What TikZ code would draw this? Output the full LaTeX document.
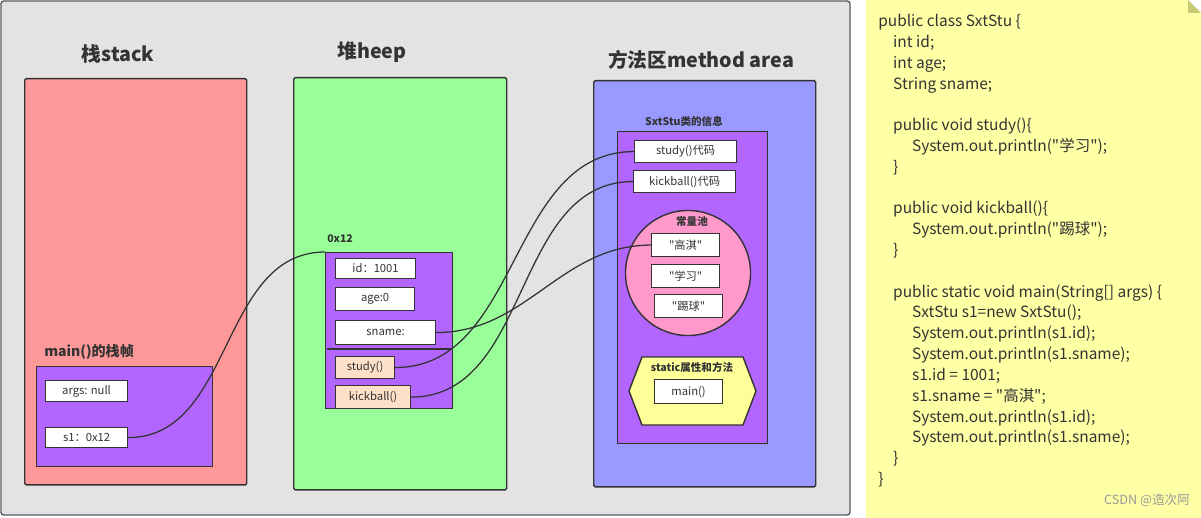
\documentclass[tikz,border=0pt]{standalone}
\usepackage{fontspec}
\setmainfont{Noto Sans CJK SC}
\newfontfamily\plainfont{Noto Sans CJK SC}
\usetikzlibrary{positioning}
\definecolor{ink}{HTML}{333333}
\definecolor{bggray}{HTML}{E3E3E3}
\definecolor{stackred}{HTML}{FF9999}
\definecolor{heapgreen}{HTML}{99FF99}
\definecolor{methodblue}{HTML}{9999FF}
\definecolor{framepurple}{HTML}{B266FF}
\definecolor{peach}{HTML}{FFE0C8}
\definecolor{poolpink}{HTML}{FF99CC}
\definecolor{hexyellow}{HTML}{FFFF99}
\definecolor{noteyellow}{HTML}{FFFFA6}
\definecolor{notefold}{HTML}{C8C878}
\begin{document}
\begin{tikzpicture}[x=0.025cm, y=-0.025cm,
        every node/.style={text=ink, inner sep=0pt},
        area/.style={draw=ink, line width=1pt, rounded corners=1pt, anchor=north west},
        cell/.style={draw=ink, line width=0.8pt, fill=white, anchor=north west, font=\plainfont\fontsize{8}{9}\selectfont},
        title/.style={font=\fontsize{14}{16}\selectfont\bfseries},
        tag/.style={font=\fontsize{7.5}{9}\selectfont\bfseries},
        link/.style={draw=ink, line width=0.9pt}
    ]
        \useasboundingbox (0,0) rectangle (1201,518);

        % Khung nền và ghi chú
        \filldraw[fill=bggray, draw=ink!80, line width=1pt, rounded corners=2pt] (1,1) rectangle (850,515);
        \fill[noteyellow] (866,0) -- (1188,0) -- (1201,13) -- (1201,518) -- (866,518) -- cycle;
        \fill[notefold] (1188,0) -- (1188,13) -- (1201,13) -- cycle;

        % Ba vùng nhớ
        \node[title] (tstack) at (118,54) {栈stack};
        \node[title] (theap) at (372,52) {堆heep};
        \node[title] (tmethod) at (701,60) {方法区method area};
        \node[area, fill=stackred, minimum width=5.55cm, minimum height=10.15cm] (stack) at (24,78) {};
        \node[area, fill=heapgreen, minimum width=5.325cm, minimum height=10.3cm] (heap) at (293,77) {};
        \node[area, fill=methodblue, minimum width=5.55cm, minimum height=10.15cm] (method) at (593,80) {};

        % Ngăn xếp
        \node[anchor=west, font=\fontsize{10}{12}\selectfont\bfseries] (tframe) at (44,352) {main()的栈帧};
        \node[area, fill=framepurple, rounded corners=0pt, minimum width=4.4cm, minimum height=2.5cm] (frame) at (36,366) {};
        \node[cell, minimum width=2.05cm, minimum height=0.525cm] (args) at (45,380) {args: null};
        \node[cell, minimum width=2.05cm, minimum height=0.5cm] (s1) at (45,427) {s1：0x12};

        % Đối tượng trên heap
        \node[tag, anchor=west] (taddr) at (327,239) {0x12};
        \node[area, fill=framepurple, rounded corners=0pt, minimum width=3.175cm, minimum height=3.9cm] (obj) at (325,252) {};
        \node[cell, minimum width=2cm, minimum height=0.5cm] (id) at (335,258) {id：1001};
        \node[cell, minimum width=1.975cm, minimum height=0.575cm] (age) at (335,287) {age:0};
        \node[cell, minimum width=2.5cm, minimum height=0.6cm] (sname) at (335,320) {sname:};
        \draw[ink, line width=0.8pt] (327,349) -- (451,349);
        \node[cell, fill=peach, minimum width=1.475cm, minimum height=0.55cm] (study) at (335,356) {study()};
        \node[cell, fill=peach, minimum width=1.875cm, minimum height=0.575cm] (kick) at (335,385) {kickball()};

        % Vùng phương thức
        \node[tag] (tinfo) at (684,121) {SxtStu类的信息};
        \node[area, fill=framepurple, rounded corners=0pt, minimum width=3.75cm, minimum height=7.8cm] (info) at (617,131) {};
        \node[cell, minimum width=2.55cm, minimum height=0.55cm] (studyc) at (634,140) {study()代码};
        \node[cell, minimum width=2.55cm, minimum height=0.55cm] (kickc) at (633,170) {kickball()代码};
        \node[circle, draw=ink, fill=poolpink, line width=1pt, minimum size=3.125cm] (pool) at (688,273) {};
        \node[tag] (tpool) at (692,221) {常量池};
        \node[cell, minimum width=1.7cm, minimum height=0.575cm] (gq) at (651,233) {"高淇"};
        \node[cell, minimum width=1.7cm, minimum height=0.575cm] (xx) at (651,264) {"学习"};
        \node[cell, minimum width=1.7cm, minimum height=0.575cm] (tq) at (654,294) {"踢球"};
        \filldraw[fill=hexyellow, draw=ink, line width=1pt] (642,357) -- (743,357) -- (756,391) -- (743,425) -- (642,425) -- (629,391) -- cycle;
        \node[tag] (tstatic) at (692,367) {static属性和方法};
        \node[cell, minimum width=1.7cm, minimum height=0.6cm] (main) at (654,379) {main()};

        % Các liên kết
        \draw[link] (s1.east) to[out=0, in=180] (obj.north west);
        \draw[link] (sname.east) to[out=0, in=180] (gq.west);
        \draw[link] (study.east) to[out=0, in=180] (studyc.west);
        \draw[link] (kick.east) to[out=0, in=180] (kickc.west);

        % Mã nguồn
        \node[anchor=north west, align=left, font=\plainfont\fontsize{11}{14.8}\selectfont] (src) at (878,14) {%
public class SxtStu \{\\
\hspace*{10.6pt}int id;\\
\hspace*{10.6pt}int age;\\
\hspace*{10.6pt}String sname;\\[14.8pt]
\hspace*{10.6pt}public void study()\{\\
\hspace*{24pt}System.out.println("学习");\\
\hspace*{10.6pt}\}\\[14.8pt]
\hspace*{10.6pt}public void kickball()\{\\
\hspace*{24pt}System.out.println("踢球");\\
\hspace*{10.6pt}\}\\[14.8pt]
\hspace*{10.6pt}public static void main(String[] args) \{\\
\hspace*{24pt}SxtStu s1=new SxtStu();\\
\hspace*{24pt}System.out.println(s1.id);\\
\hspace*{24pt}System.out.println(s1.sname);\\
\hspace*{24pt}s1.id = 1001;\\
\hspace*{24pt}s1.sname = "高淇";\\
\hspace*{24pt}System.out.println(s1.id);\\
\hspace*{24pt}System.out.println(s1.sname);\\
\hspace*{10.6pt}\}\\
\}};
        \node[font=\fontsize{9}{10}\selectfont, text=gray!80] (mark) at (1147,500) {CSDN @造次阿};
    \end{tikzpicture}
\end{document}
